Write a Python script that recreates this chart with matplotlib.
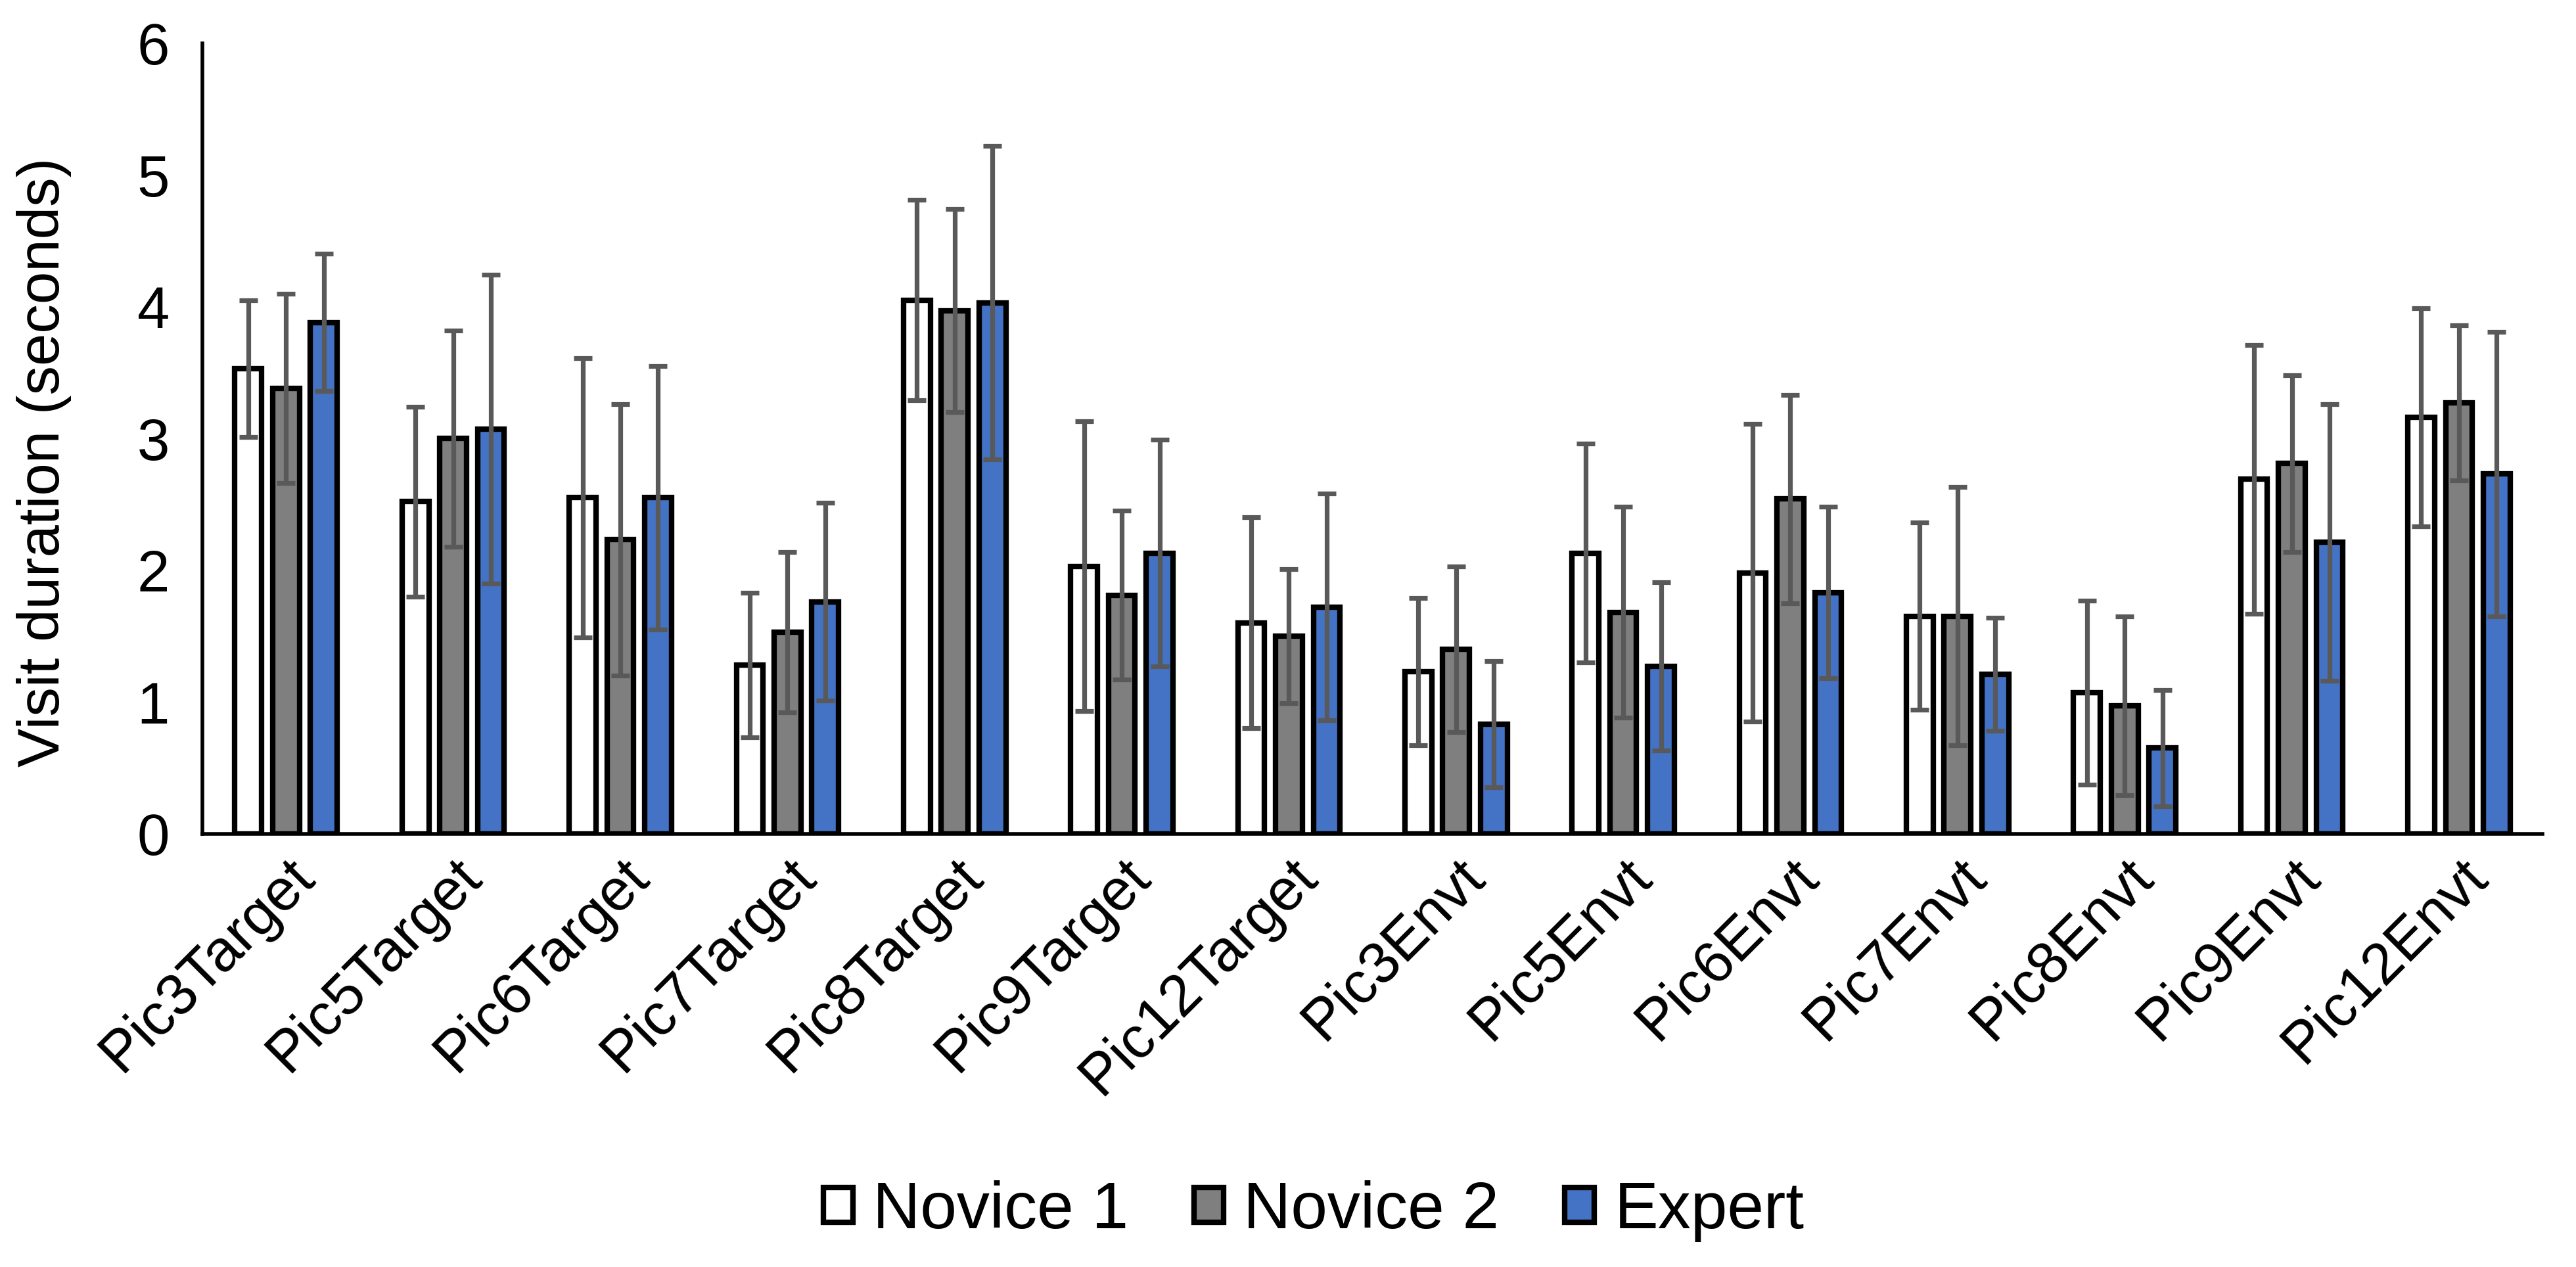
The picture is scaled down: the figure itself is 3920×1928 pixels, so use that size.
import numpy as np
import matplotlib
matplotlib.use('Agg')
import matplotlib.pyplot as plt
plt.rcParams['font.family'] = ['Liberation Sans', 'DejaVu Sans']

categories = ['Pic3Target', 'Pic5Target', 'Pic6Target', 'Pic7Target', 'Pic8Target',
              'Pic9Target', 'Pic12Target', 'Pic3Envt', 'Pic5Envt', 'Pic6Envt',
              'Pic7Envt', 'Pic8Envt', 'Pic9Envt', 'Pic12Envt']

novice1 = [3.53, 2.52, 2.55, 1.28, 4.05, 2.03, 1.60, 1.23, 2.13, 1.98, 1.65, 1.07, 2.69, 3.16]
novice2 = [3.38, 3.00, 2.23, 1.53, 3.97, 1.81, 1.50, 1.40, 1.68, 2.54, 1.65, 0.97, 2.81, 3.27]
expert = [3.88, 3.07, 2.55, 1.76, 4.03, 2.13, 1.72, 0.83, 1.27, 1.83, 1.21, 0.65, 2.21, 2.73]

novice1_err = [0.52, 0.72, 1.06, 0.55, 0.76, 1.10, 0.80, 0.56, 0.83, 1.13, 0.71, 0.70, 1.02, 0.83]
novice2_err = [0.72, 0.82, 1.03, 0.61, 0.77, 0.64, 0.51, 0.63, 0.80, 0.79, 0.98, 0.68, 0.67, 0.59]
expert_err = [0.52, 1.17, 1.00, 0.75, 1.19, 0.86, 0.86, 0.48, 0.64, 0.65, 0.43, 0.44, 1.05, 1.08]

series = [('Novice 1', novice1, novice1_err, '#FFFFFF'),
          ('Novice 2', novice2, novice2_err, '#7F7F7F'),
          ('Expert', expert, expert_err, '#4472C4')]

fig = plt.figure(figsize=(19.6, 9.64), dpi=200)
ax = fig.add_axes([0.0786, 0.342, 0.987 - 0.0786, 0.966 - 0.342])

x = np.arange(len(categories))
width = 0.16
step = 0.226

for i, (name, vals, errs, color) in enumerate(series):
    pos = x + (i - 1) * step
    ax.bar(pos, vals, width, color=color, edgecolor='black', linewidth=3,
           label=name, zorder=2)
    ax.errorbar(pos, vals, yerr=errs, fmt='none', ecolor='#595959',
                elinewidth=2.6, capsize=5, capthick=2.6, zorder=3)

ax.set_xlim(-0.5, len(categories) - 0.5)
ax.set_ylim(0, 6)
ax.set_yticks(range(0, 7))
ax.set_xticks(x)
ax.set_xticklabels(categories, rotation=45, ha='right', rotation_mode='anchor')

for side in ['top', 'right']:
    ax.spines[side].set_visible(False)
ax.spines['left'].set_linewidth(2)
ax.spines['bottom'].set_linewidth(2)
ax.tick_params(axis='y', length=0, labelsize=32, pad=18)
ax.tick_params(axis='x', length=0, labelsize=32, pad=8)
ax.set_ylabel('Visit duration (seconds)', fontsize=32, labelpad=36)
ax.yaxis.label.set_y(0.47)

fig.legend(loc='center', bbox_to_anchor=(0.51, 0.044), ncol=3, frameon=False,
           fontsize=36, handlelength=0.45, handleheight=0.45,
           handletextpad=0.3, columnspacing=1.0)

plt.savefig('out.png', dpi=200)
